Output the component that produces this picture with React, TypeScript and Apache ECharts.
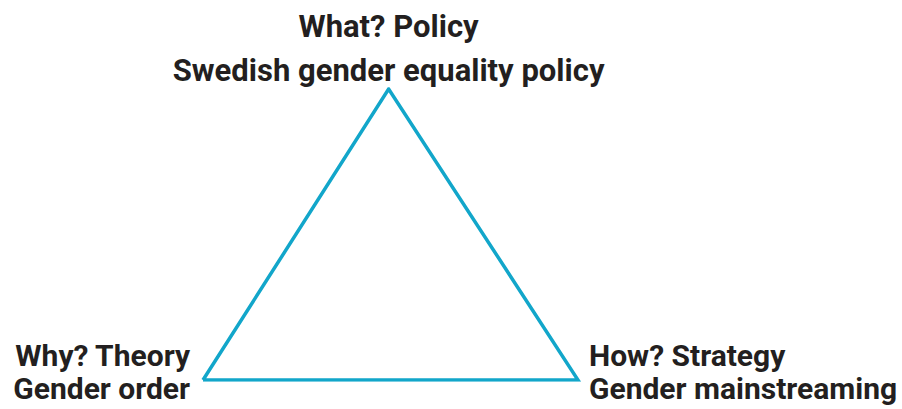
import React, { useEffect, useRef } from "react";
import * as echarts from "echarts";

const vertexNames = ["Why? Theory", "What? Policy", "How? Strategy"];
const vertexSubtitles = ["Gender order", "Swedish gender equality policy", "Gender mainstreaming"];
const vertexX = [0, 0.495, 1];
const vertexY = [0, 1, 0];

export default function App() {
  const ref = useRef<HTMLDivElement>(null);
  useEffect(() => {
    if (!ref.current) return;
    const chart = echarts.init(ref.current, undefined, { renderer: "svg" });
    const tri = [0, 1, 2, 0].map((i) => [vertexX[i], vertexY[i]]);
    const font = {
      fontFamily: "Roboto",
      fontWeight: "bold" as const,
      fontSize: 30,
      color: "#231f20",
    };
    const pts = vertexNames.map((n, i) => ({
      value: [vertexX[i], vertexY[i]],
      name: n,
      label:
        i === 0
          ? { position: "left", distance: 13, align: "right", lineHeight: 33, offset: [0, -8] }
          : i === 1
          ? { position: "top", distance: -3, align: "center", lineHeight: 44, fontSize: 31 }
          : { position: "right", distance: 11, align: "left", lineHeight: 33, offset: [0, -8] },
    }));
    chart.setOption({
      animation: false,
      grid: { left: 203, top: 89, width: 375, height: 291 },
      xAxis: { type: "value", min: 0, max: 1, show: false },
      yAxis: { type: "value", min: 0, max: 1, show: false },
      series: [
        {
          type: "line",
          data: tri,
          symbol: "none",
          lineStyle: { color: "#12a6ca", width: 3.5, join: "miter" },
          silent: true,
        },
        {
          type: "scatter",
          data: pts,
          symbolSize: 0,
          itemStyle: { opacity: 1 },
          label: {
            show: true,
            ...font,
            textBorderWidth: 0,
            formatter: (p: any) => p.name + "\n" + vertexSubtitles[p.dataIndex],
          },
        },
      ],
    });
    return () => chart.dispose();
  }, []);
  return <div ref={ref} style={{ width: 902, height: 409, position: "absolute", left: 0, top: 0 }} />;
}
